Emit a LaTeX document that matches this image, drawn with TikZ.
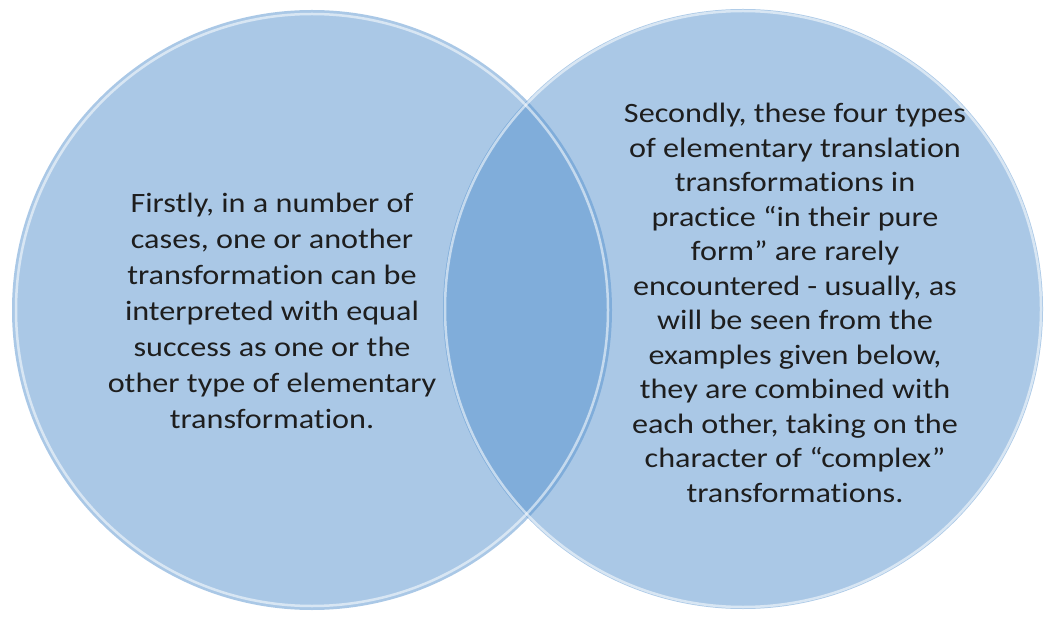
\documentclass[tikz,border=0pt]{standalone}
\usepackage{fontspec}
\setmainfont{Carlito}[Ligatures=NoCommon, FakeStretch=1.15]
\definecolor{vennblue}{RGB}{86,146,206}
\definecolor{txt}{RGB}{30,30,30}
\begin{document}
\begin{tikzpicture}[x=1pt,y=-1pt,
  venn/.style={circle, minimum size=600pt, inner sep=0pt, fill=vennblue, fill opacity=0.5},
  rim/.style={draw=white, draw opacity=0.55, line width=2.5pt},
  label/.style={align=center, text=txt, inner sep=0pt}]
\useasboundingbox (0,0) rectangle (1049,617);
\node[venn] (L) at (312,310) {};
\node[venn] (R) at (743,309) {};
\draw[rim] (L.center) circle[radius=296pt];
\draw[rim] (R.center) circle[radius=298pt];
\node[label, font=\fontsize{28}{36}\selectfont] (lt) at (272,311) {Firstly, in a number of\\cases, one or another\\transformation can be\\interpreted with equal\\success as one or the\\other type of elementary\\transformation.};
\node[label, font=\fontsize{28}{34.5}\selectfont] (rt) at (795,303) {Secondly, these four types\\of elementary translation\\transformations in\\practice “in their pure\\form” are rarely\\encountered - usually, as\\will be seen from the\\examples given below,\\they are combined with\\each other, taking on the\\character of “complex”\\transformations.};
\end{tikzpicture}
\end{document}
